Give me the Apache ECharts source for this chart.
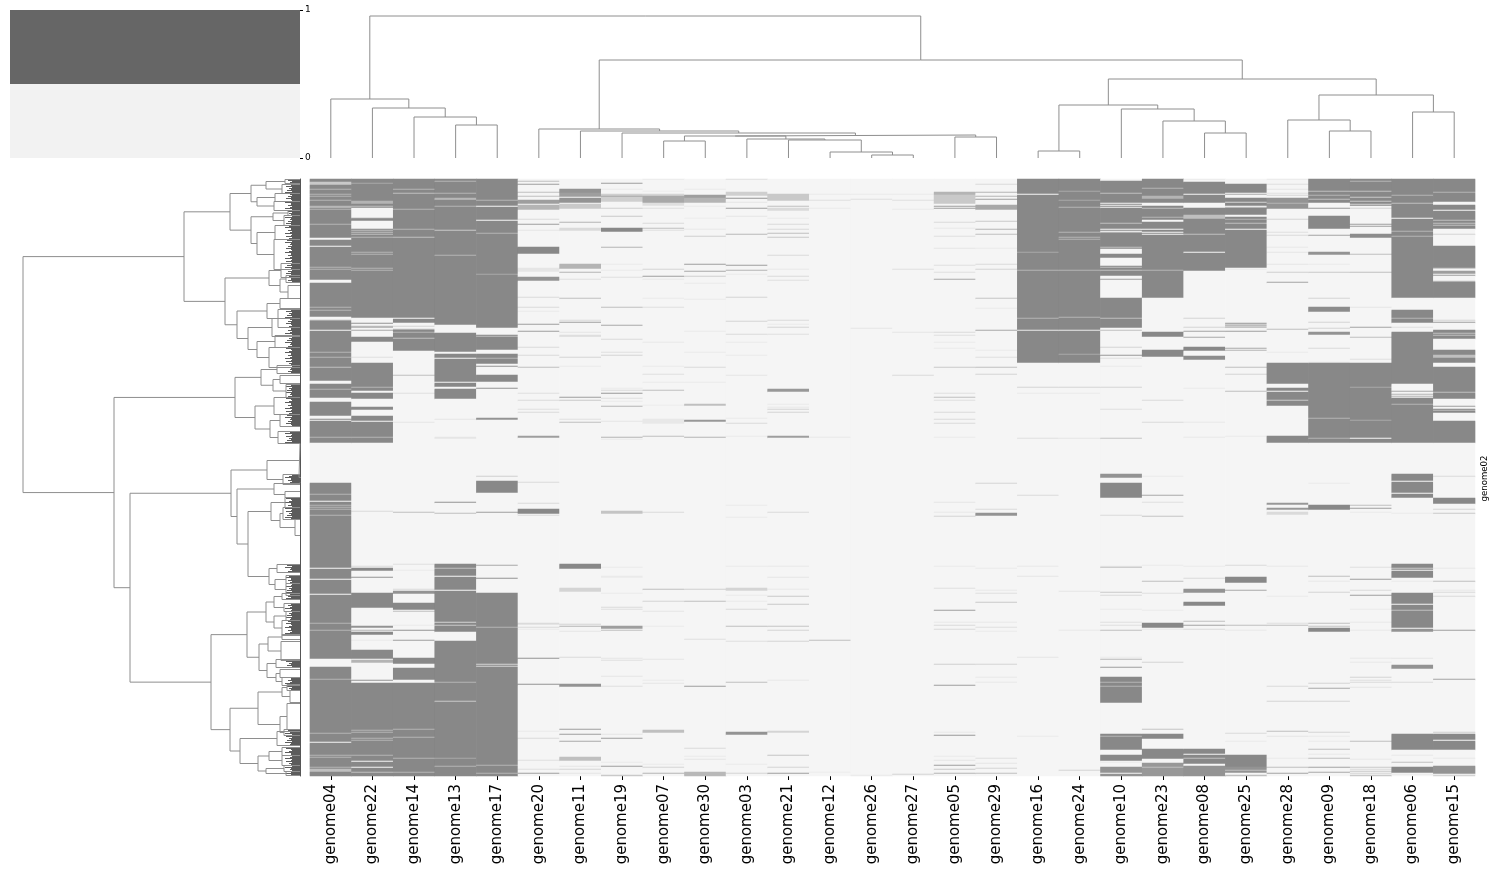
<!DOCTYPE html>
<html><head><meta charset="utf-8">
<script src="https://cdn.jsdelivr.net/npm/echarts@6/dist/echarts.min.js"></script>
<style>html,body{margin:0;padding:0;background:#fff}#c{width:1500px;height:875px}</style></head>
<body><div id="c"></div>
<script>
const FONT = '"DejaVu Sans"';
const genomes = ['genome04','genome22','genome14','genome13','genome17','genome20','genome11','genome19','genome07','genome30','genome03','genome21','genome12','genome26','genome27','genome05','genome29','genome16','genome24','genome10','genome23','genome08','genome25','genome28','genome09','genome18','genome06','genome15'];
const rowCount = 597;
const rowLabelIndex = 299, rowLabel = 'genome02';
// presence readings: [row, shade] or [firstRow, lastRow, shade]; later entries overwrite earlier ones
const genome04 = [[0,263,1],[3,5,.4],[10,.6],[15,.6],[17,.6],[21,.6],[27,.6],[28,.5],[30,.6],[45,.6],[59,60,0],[67,0],[88,.6],[90,.6],[101,103,0],[128,.6],[131,.6],[138,140,0],[141,.6],[151,0],[173,.6],[178,.6],[188,.5],[202,204,0],[210,.6],[219,222,0],[237,239,0],[241,0],[258,.6],[304,596,1],[315,.6],[322,0],[326,.6],[328,.6],[330,.6],[336,.6],[389,0],[400,0],[415,0],[444,.6],[451,.6],[480,487,0],[500,.6],[554,.6],[563,0],[576,.6],[578,.6],[588,.6],[590,592,.5]];
const genome22 = [[0,138,1],[4,.7],[22,24,.6],[27,.5],[29,0],[30,38,0],[39,.8],[40,41,1],[42,49,0],[51,.5],[53,.5],[55,.5],[58,.6],[73,.6],[75,.6],[89,.6],[91,.6],[144,.9],[147,.5],[148,.7],[151,.7],[158,162,1],[178,.2],[184,219,1],[208,.6],[212,213,0],[228,230,1],[237,263,1],[242,0],[258,.6],[332,.25],[387,.25],[389,391,1],[398,.9],[414,428,1],[447,448,.9],[451,.6],[453,455,1],[461,.1],[471,479,1],[481,483,.6],[501,.9],[504,596,1],[551,.6],[553,.6],[559,.6],[561,.6],[576,.6],[582,0],[588,0],[593,.5]];
const genome14 = [[0,171,1],[10,.6],[14,.5],[30,.6],[50,.6],[58,.5],[139,0],[140,143,1],[144,150,0],[147,.3],[150,.5],[153,.6],[159,.5],[196,.5],[214,.2],[243,.15],[333,.5],[385,.2],[391,.1],[410,.25],[412,414,.9],[424,430,1],[432,.5],[446,.1],[451,.9],[461,.8],[479,484,1],[489,500,1],[504,596,1],[550,.6],[558,.6],[579,.6],[593,.6]];
const genome13 = [[0,145,1],[2,.6],[14,.6],[19,.6],[20,.5],[27,.6],[51,.4],[76,.6],[154,172,1],[175,178,1],[180,184,1],[185,202,1],[204,207,1],[210,219,1],[240,.15],[258,259,.15],[323,.9],[334,.5],[385,396,1],[389,.5],[398,410,1],[412,452,1],[443,.3],[446,.4],[462,596,1],[503,.6],[522,.4],[579,.7],[587,.6]];
const genome17 = [[0,148,1],[21,.6],[27,0],[41,0],[54,.6],[95,.7],[156,170,1],[157,.5],[175,184,1],[179,.6],[187,.9],[196,202,1],[209,.9],[239,240,.9],[297,.35],[302,313,1],[333,.8],[386,.7],[399,.9],[414,596,1],[448,.6],[485,.3],[487,.3],[586,.6],[594,.6]];
const genome20 = [[2,.5],[5,.8],[13,.5],[17,.5],[21,24,.8],[26,30,.6],[40,.25],[45,.8],[51,.15],[68,74,1],[89,92,.15],[98,101,.9],[118,.25],[128,.25],[132,.1],[145,.8],[152,.8],[168,.25],[176,.25],[188,.5],[214,.2],[221,.25],[230,.2],[233,.25],[257,258,.8],[303,.25],[324,.25],[330,334,1],[336,.25],[444,.25],[445,.2],[448,.25],[450,.1],[479,.9],[505,.9],[552,.1],[559,.25],[581,.2],[590,.2],[594,.8]];
const genome11 = [[10,13,.9],[14,17,.8],[19,23,.9],[25,29,.4],[43,.6],[49,51,.25],[85,89,.6],[93,.6],[100,.2],[119,.5],[141,.25],[143,.8],[153,.15],[156,.2],[157,.25],[178,.3],[187,.1],[218,.8],[221,.4],[240,.2],[243,.5],[385,389,1],[409,412,.3],[445,.3],[447,.6],[452,.15],[478,.25],[505,507,.9],[550,.8],[555,.8],[562,.7],[578,581,.5],[590,.3],[587,.15],[594,.15]];
const genome19 = [[4,.8],[10,.1],[15,22,.35],[17,.7],[29,.35],[37,.4],[49,52,1],[68,.6],[85,.1],[91,.1],[98,.2],[128,.5],[146,.7],[160,.25],[173,.2],[176,.3],[209,.1],[211,.25],[214,.85],[219,.2],[222,.1],[227,.6],[242,.15],[258,.6],[260,.1],[332,334,.45],[388,.1],[397,.1],[398,.1],[414,.1],[428,.25],[430,.2],[447,449,.8],[451,.5],[479,.15],[481,.2],[497,.15],[507,.2],[555,.15],[559,.8],[583,.1],[587,.8],[596,.4]];
const genome07 = [[0,.1],[12,.08],[15,16,.3],[17,23,.7],[24,26,.2],[29,.2],[44,.25],[49,.5],[51,.2],[90,.3],[97,.8],[100,.12],[119,.1],[128,.2],[163,.12],[187,.1],[195,.2],[203,.1],[211,.5],[226,.08],[240,244,.12],[257,.5],[333,.25],[410,.5],[422,.3],[432,.15],[447,.1],[480,.15],[501,.1],[504,.15],[551,553,.5],[585,.1],[588,.3],[594,.6]];
const genome30 = [[10,.1],[16,18,.8],[19,23,.6],[27,.1],[39,.08],[50,.12],[57,.35],[85,.8],[92,.7],[97,.35],[104,.1],[120,.1],[152,.1],[173,.1],[188,.25],[203,.1],[225,226,.5],[241,242,.85],[258,.6],[410,.35],[422,.5],[460,.2],[507,.8],[569,.25],[577,.1],[580,.15],[593,596,.55]];
const genome03 = [[0,.2],[13,16,.35],[19,.9],[23,.15],[29,.8],[37,.15],[55,.55],[86,.8],[91,.6],[95,.1],[118,.3],[142,.3],[155,.25],[163,.1],[176,.1],[196,.15],[239,.1],[244,.25],[257,.1],[326,.1],[338,.1],[387,.1],[409,411,.3],[416,.1],[422,.1],[430,.25],[447,.5],[462,.2],[503,.5],[553,555,.9],[585,.1],[594,.3]];
const genome21 = [[15,21,.4],[27,.5],[29,31,.25],[39,.1],[45,.25],[50,.25],[54,.5],[58,.4],[76,.25],[90,.12],[97,.25],[101,.2],[141,.25],[145,.1],[148,.3],[155,.2],[210,212,.85],[225,.1],[228,.12],[230,.3],[233,.3],[257,258,.8],[333,.25],[387,.12],[398,.15],[410,.12],[417,.4],[425,.4],[447,.45],[451,.3],[462,.3],[501,.12],[552,553,.3],[576,.45],[588,.3],[594,.8]];
const genome12 = [[15,.1],[21,.2],[29,.1],[258,.12],[461,.5],[593,.08]];
const genome26 = [[15,.1],[20,.2],[149,.15],[596,.08]];
const genome27 = [[15,.1],[21,.2],[30,.1],[90,.2],[153,.15],[196,.25],[595,.3]];
const genome05 = [[13,15,.6],[16,24,.4],[27,.8],[29,.8],[43,.25],[49,.12],[57,.2],[69,.15],[86,.2],[93,.2],[100,.7],[153,.25],[156,.2],[163,.1],[169,.1],[188,.4],[214,.2],[218,.5],[221,.2],[233,.25],[240,.25],[244,.25],[258,.1],[323,.15],[333,.12],[337,.3],[387,.1],[409,.2],[431,.8],[443,.12],[446,.25],[450,.25],[485,.35],[506,.8],[553,.12],[556,.85],[577,.1],[581,.15],[586,.8],[590,.4],[594,.6]];
const genome29 = [[5,.25],[13,.6],[17,.6],[20,.8],[26,30,.7],[42,.4],[50,.6],[55,.5],[69,.1],[85,.25],[90,.3],[119,.45],[129,.1],[151,.7],[171,.1],[178,.2],[188,.5],[195,.3],[304,.3],[330,.25],[334,336,.9],[389,.1],[411,.12],[414,.2],[423,.4],[443,.12],[448,.2],[452,.1],[485,.3],[498,.12],[503,.12],[579,.2],[584,.15],[589,.3],[594,.5]];
const genome16 = [[0,183,1],[15,0],[73,.7],[91,.6],[139,.6],[151,.1],[208,.3],[214,.1],[259,.2],[316,.25],[387,.12],[397,.15],[478,.15],[557,.1]];
const genome24 = [[0,183,1],[12,.7],[21,.7],[28,.6],[53,.6],[58,.6],[60,.6],[91,.6],[138,.6],[151,.1],[175,.7],[208,.3],[214,.1],[259,.15],[412,.15],[451,.12],[591,.3]];
const genome10 = [[2,118,1],[14,.5],[24,0],[26,0],[28,0],[44,.5],[50,0],[52,0],[53,.5],[68,.5],[70,74,0],[79,86,0],[88,.5],[91,.5],[97,101,0],[100,.8],[102,118,0],[119,148,1],[139,.5],[151,.5],[168,.3],[176,.85],[179,.2],[187,.1],[208,.3],[230,.2],[259,.45],[295,298,.9],[304,318,1],[336,.25],[388,.5],[387,.1],[413,.4],[416,.25],[430,.1],[443,.2],[446,.2],[451,.5],[480,.55],[478,.1],[488,.8],[498,523,1],[503,.6],[507,.6],[555,570,1],[557,.6],[576,581,1],[583,.1],[588,593,.9],[594,0],[595,596,.9]];
const genome23 = [[0,118,1],[9,.6],[17,19,.6],[24,26,0],[29,.5],[38,.6],[41,42,0],[50,0],[53,0],[55,0],[91,.6],[153,157,1],[171,177,1],[221,.25],[243,.25],[297,.1],[316,.7],[323,.2],[337,.45],[386,.1],[402,.5],[414,.2],[431,.1],[444,448,1],[450,.12],[483,.3],[550,.45],[555,559,1],[570,579,1],[584,596,.85],[588,.5]];
const genome08 = [[0,.1],[3,91,1],[15,0],[24,28,0],[36,39,.5],[55,.5],[73,0],[139,.3],[148,.3],[152,.75],[158,.7],[168,171,1],[177,180,.95],[209,.1],[243,.12],[258,.12],[387,.1],[399,.25],[410,413,.9],[423,426,1],[442,.5],[446,.75],[450,.25],[570,574,1],[576,584,1],[579,.5],[587,596,.9]];
const genome25 = [[5,13,1],[14,18,0],[15,.7],[19,35,1],[23,.3],[27,0],[28,.4],[36,37,0],[38,88,1],[40,.6],[44,.5],[50,0],[90,.1],[144,.8],[145,.3],[146,.6],[147,.3],[148,.6],[152,.8],[169,.7],[171,.6],[188,.5],[195,.3],[212,.5],[257,.1],[386,.25],[398,403,1],[411,.7],[446,.5],[451,.12],[554,.25],[562,.1],[576,587,1],[588,593,.9],[591,.5],[596,.5]];
const genome28 = [[0,.12],[5,.2],[10,.15],[14,.2],[16,.3],[19,29,.9],[24,.6],[40,.3],[53,.2],[56,.25],[68,.12],[73,.15],[85,.15],[93,.35],[103,.75],[150,.5],[173,.1],[184,204,1],[205,207,0],[209,226,1],[212,0],[221,.4],[257,263,1],[324,325,.85],[329,330,.85],[333,335,.25],[387,.12],[417,.1],[444,.2],[446,.5],[507,.25],[522,.3],[552,.5],[557,.15],[579,.1],[588,.5],[594,.75]];
const genome09 = [[0,23,1],[12,.5],[16,.6],[20,.5],[29,.85],[37,49,1],[56,.75],[73,75,.9],[85,.1],[93,.4],[119,.3],[128,132,.95],[143,.3],[149,.3],[153,155,.9],[169,.25],[183,.1],[184,263,1],[239,.6],[259,.6],[304,.1],[326,330,1],[397,.5],[402,.12],[413,.3],[444,.5],[447,.45],[449,452,1],[504,.3],[509,.7],[522,.3],[553,.3],[557,.1],[562,.1],[570,.5],[575,.12],[579,.5],[588,.75],[593,.7]];
const genome18 = [[0,26,1],[2,.6],[12,.5],[18,.4],[22,.4],[25,.3],[29,.3],[45,.8],[47,.8],[55,58,.95],[75,.5],[93,.5],[128,.15],[148,.75],[158,.5],[180,.2],[184,263,1],[208,.7],[241,.7],[259,0],[326,.5],[329,.8],[333,.1],[388,.2],[400,.8],[411,.25],[416,.8],[430,.1],[443,.12],[451,.12],[479,.12],[483,.12],[498,.3],[501,.2],[503,.25],[508,.15],[562,.5],[580,.12],[588,.4],[590,.25],[592,.4],[594,.3],[596,.4]];
const genome06 = [[0,38,1],[16,.6],[24,.5],[39,0],[40,118,1],[52,.6],[57,.6],[131,143,1],[139,.6],[148,.2],[153,159,1],[160,171,1],[172,188,1],[188,204,1],[211,218,0],[212,.7],[215,.6],[217,.6],[219,263,1],[225,.6],[295,313,1],[302,0],[315,318,1],[334,.1],[385,398,1],[389,.4],[391,0],[402,.1],[414,424,1],[426,448,1],[431,.5],[450,452,.9],[479,.15],[486,489,.9],[503,.25],[555,570,1],[576,.12],[583,.5],[588,593,1],[595,.1]];
const genome15 = [[0,22,1],[13,.6],[26,30,1],[32,38,1],[39,49,1],[41,.5],[44,.5],[46,.5],[55,.3],[67,88,1],[89,.5],[91,0],[92,96,.8],[95,0],[102,118,1],[102,.5],[141,.3],[143,.8],[151,159,1],[154,.5],[156,.5],[171,183,1],[176,178,.5],[188,219,1],[213,.5],[227,.8],[230,233,1],[231,.5],[242,263,1],[297,.25],[319,324,1],[330,.3],[334,.4],[389,.12],[402,.5],[411,.12],[413,.25],[417,.25],[451,.8],[500,.75],[553,.35],[555,560,1],[562,570,1],[579,.12],[587,594,.9],[596,.3]];
const genomeRows = [genome04,genome22,genome14,genome13,genome17,genome20,genome11,genome19,genome07,genome30,genome03,genome21,genome12,genome26,genome27,genome05,genome29,genome16,genome24,genome10,genome23,genome08,genome25,genome28,genome09,genome18,genome06,genome15];
// column dendrogram: [height, left, right]; a number is the index of a leaf column
const colTree = [142,[59,0,[50,1,[41,2,[33,3,4]]]],[98,[29,5,[27,6,[25,7,[23,[22,[17,8,9],[19,10,[18,11,[6,12,[3,13,14]]]]],[21,15,16]]]]],[79,[53,[7,17,18],[49,19,[37,20,[25,21,22]]]],[63,[38,23,[27,24,25]],[46,26,27]]]]];
// row dendrogram: [height, childA, childB]; the lowest groups are [height, firstRow, lastRow] with an optional 0 for a group with no dense leaves
const rowTree = [277,
 [116,
  [70,
   [49,[34,[15,0,4],[18,5,14]],[43,[25,14,22],[26,22,31]]],
   [49,[27,[12,31,36],[16,36,46]],[43,[25,46,60],[26,60,90]]]],
  [75,
   [31,[19,84,98],[20,[14,96,103],[12,106,119,0]]],
   [63,
    [33,[20,119,129,0],[22,130,148]],
    [52,[28,139,157],[43,[25,156,168],[31,168,188]]]]]],
 [186,
  [65,
   [39,[23,186,194],[27,[20,196,204,0],[14,205,218]]],
   [45,[26,218,235],[30,[20,235,247],[22,252,264]]]],
  [170,
   [69,
    [33,[1,264,298,0],[17,295,305]],
    [63,
     [26,[1,303,305,0],[15,312,318,0]],
     [52,
      [29,[15,318,328],[20,[17,328,340],[5,340,356,0]]],
      [31,[23,385,393],[25,[14,396,404],[14,404,416]]]]]],
   [89,
    [53,
     [34,[26,[18,414,420],[16,424,432]],[26,[14,432,441],[18,441,456]]],
     [41,[32,[18,455,460,0],[19,462,481,0]],[33,[24,480,488],[24,[20,490,498,0],[18,498,506]]]]],
    [70,
     [42,[18,[13,505,511],[10,511,523,0]],[20,[13,524,550,0],[16,550,556]]],
     [60,[23,552,566],[42,[31,[18,568,576],[18,576,586]],[34,[16,586,592],[14,592,596]]]]]]]]];
// how far the leaves of a dense group reach, in height units, as seen along the left edge
const leafReach = [9,12,8,10,15,8,9,14,8,11,9,13,8,15,9,10,8,12,9,14,9,8,11,15,9];
const colorbarLow = 0.5, colorbarHigh = 0.5;

const cells = [];
genomeRows.forEach((entries, c) => {
  const shade = new Array(rowCount).fill(0);
  entries.forEach(e => {
    const [a, b, v] = e.length === 2 ? [e[0], e[0], e[1]] : e;
    for (let r = a; r <= b && r < rowCount; r++) shade[r] = v;
  });
  shade.forEach((v, r) => cells.push([c, r, v]));
});

function walkCols(n, out) {
  if (typeof n === 'number') return [n + 0.5, 0];
  const a = walkCols(n[1], out), b = walkCols(n[2], out), h = n[0];
  out.push([a[0], a[1]], [a[0], h], [b[0], h], [b[0], b[1]], [null, null]);
  return [(a[0] + b[0]) / 2, h];
}
const colLines = []; walkCols(colTree, colLines);

const leafLines = [];
function walkRows(n, out) {
  const h = n[0];
  if (typeof n[1] === 'number') {
    const r0 = n[1] + 0.5, r1 = n[2] + 0.5;
    out.push([0, r0], [h, r0], [h, r1], [0, r1], [null, null]);
    if (n[3] !== 0) for (let r = n[1]; r <= n[2]; r++) {
      leafLines.push([0, r + 0.5], [Math.min(leafReach[r % leafReach.length], h), r + 0.5], [null, null]);
    }
    return [h, (r0 + r1) / 2];
  }
  const a = walkRows(n[1], out), b = walkRows(n[2], out);
  out.push([a[0], a[1]], [h, a[1]], [h, b[1]], [b[0], b[1]], [null, null]);
  return [h, (a[1] + b[1]) / 2];
}
const rowLines = []; walkRows(rowTree, rowLines);

const hideAxis = {show: false};
const chart = echarts.init(document.getElementById('c'), null, {renderer: 'canvas'});
chart.setOption({
  animation: false, backgroundColor: '#fff', textStyle: {fontFamily: FONT},
  grid: [
    {left: 310, top: 179, width: 1165, height: 597},
    {left: 310, top: 16, width: 1165, height: 142},
    {left: 10, top: 179, width: 290, height: 597},
    {left: 10, top: 10, width: 290, height: 148}
  ],
  xAxis: [
    {gridIndex: 0, type: 'category', data: genomes, splitLine: {show: false}, splitArea: {show: false},
     axisLine: {show: false}, axisTick: {show: true, alignWithLabel: true, length: 4, lineStyle: {color: '#000', width: 1}},
     axisLabel: {rotate: 90, interval: 0, fontSize: 15, color: '#000', margin: 8, padding: [4, 0, 0, 0], fontFamily: FONT}},
    {gridIndex: 1, type: 'value', min: 0, max: 28, ...hideAxis},
    {gridIndex: 2, type: 'value', min: 0, max: 290, inverse: true, ...hideAxis},
    {gridIndex: 3, type: 'category', data: [''], ...hideAxis}
  ],
  yAxis: [
    {gridIndex: 0, type: 'category', inverse: true, position: 'right', data: Array.from({length: rowCount}, (_, i) => i === rowLabelIndex ? rowLabel : ''),
     splitLine: {show: false}, splitArea: {show: false}, axisLine: {show: false}, axisTick: {show: false},
     axisLabel: {rotate: 90, interval: 0, fontSize: 8.6, color: '#000', margin: 10, hideOverlap: false, fontFamily: FONT, align: 'center', verticalAlign: 'middle'}},
    {gridIndex: 1, type: 'value', min: 0, max: 142, ...hideAxis},
    {gridIndex: 2, type: 'value', min: 0, max: rowCount, inverse: true, position: 'right',
     splitLine: {show: false}, axisTick: {show: false}, axisLabel: {show: false},
     axisLine: {show: true, lineStyle: {color: '#555', width: 1}}},
    {gridIndex: 3, type: 'value', min: 0, max: 1, interval: 1, position: 'right', splitLine: {show: false},
     axisLine: {show: false}, axisTick: {show: true, length: 3, lineStyle: {color: '#000', width: 1}},
     axisLabel: {fontSize: 9, color: '#000', margin: 5, fontFamily: FONT}}
  ],
  visualMap: {show: false, seriesIndex: 0, dimension: 2, min: 0, max: 1, inRange: {color: ['#f5f5f5', '#888888']}},
  series: [
    {type: 'heatmap', xAxisIndex: 0, yAxisIndex: 0, data: cells, progressive: 0, emphasis: {disabled: true}},
    {type: 'line', xAxisIndex: 1, yAxisIndex: 1, data: colLines, showSymbol: false, silent: true, clip: false,
     lineStyle: {color: '#8e8e8e', width: 1}, connectNulls: false},
    {type: 'line', xAxisIndex: 2, yAxisIndex: 2, data: leafLines, showSymbol: false, silent: true,
     lineStyle: {color: '#5c5c5c', width: 1}, connectNulls: false},
    {type: 'line', xAxisIndex: 2, yAxisIndex: 2, data: rowLines, showSymbol: false, silent: true,
     lineStyle: {color: '#8e8e8e', width: 1}, connectNulls: false},
    {type: 'bar', xAxisIndex: 3, yAxisIndex: 3, stack: 'bar', barWidth: '100%', data: [colorbarLow], itemStyle: {color: '#f2f2f2'}, silent: true},
    {type: 'bar', xAxisIndex: 3, yAxisIndex: 3, stack: 'bar', barWidth: '100%', data: [colorbarHigh], itemStyle: {color: '#666666'}, silent: true}
  ]
});
</script></body></html>
